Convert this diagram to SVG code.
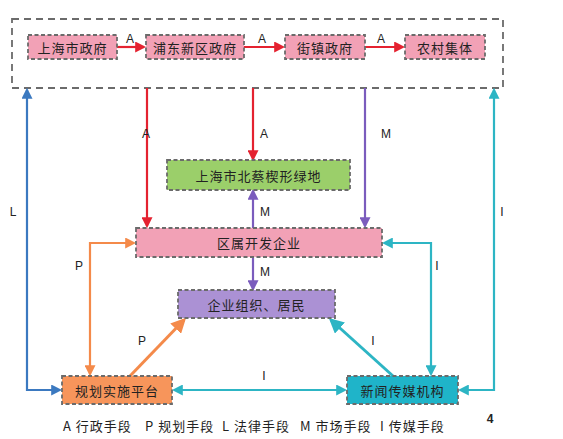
<svg xmlns="http://www.w3.org/2000/svg" width="563" height="439" viewBox="0 0 563 439">
<style>
.box{stroke:#6b6b6b;stroke-width:1.8;stroke-dasharray:4 2.5}
.t{font-family:"Noto Sans CJK SC","Liberation Sans",sans-serif;font-size:13px;fill:#222;text-anchor:middle;dominant-baseline:central;letter-spacing:1px}
.lg{font-family:"Noto Sans CJK SC","Liberation Sans",sans-serif;font-size:13px;fill:#222;dominant-baseline:central;letter-spacing:1px}
.lb{font-family:"Liberation Sans","Noto Sans CJK SC",sans-serif;font-size:12px;fill:#222;text-anchor:middle;dominant-baseline:central}
.ln{fill:none;stroke-width:2.2}
</style>
<defs>
<marker id="aR" viewBox="0 0 10 10" refX="8" refY="5" markerWidth="5" markerHeight="5" orient="auto-start-reverse"><path d="M0,0L10,5L0,10z" fill="#e42230"/></marker>
<marker id="aP" viewBox="0 0 10 10" refX="8" refY="5" markerWidth="5" markerHeight="5" orient="auto-start-reverse"><path d="M0,0L10,5L0,10z" fill="#7b5cbd"/></marker>
<marker id="aB" viewBox="0 0 10 10" refX="8" refY="5" markerWidth="5" markerHeight="5" orient="auto-start-reverse"><path d="M0,0L10,5L0,10z" fill="#3b79c0"/></marker>
<marker id="aC" viewBox="0 0 10 10" refX="8" refY="5" markerWidth="5" markerHeight="5" orient="auto-start-reverse"><path d="M0,0L10,5L0,10z" fill="#2db5c4"/></marker>
<marker id="aO" viewBox="0 0 10 10" refX="8" refY="5" markerWidth="5" markerHeight="5" orient="auto-start-reverse"><path d="M0,0L10,5L0,10z" fill="#f48a4a"/></marker>
</defs>
<rect width="563" height="439" fill="#fff"/>
<g id="outer"><rect x="12" y="19" width="491" height="69" fill="none" class="box" style="stroke-dasharray:7 5"/></g>
<g id="connectors">
<line class="ln" x1="117" y1="47" x2="144" y2="47" stroke="#e42230" marker-end="url(#aR)"/>
<line class="ln" x1="244" y1="47" x2="283" y2="47" stroke="#e42230" marker-end="url(#aR)"/>
<line class="ln" x1="365" y1="47" x2="403" y2="47" stroke="#e42230" marker-end="url(#aR)"/>
<line class="ln" x1="147" y1="88" x2="147" y2="226" stroke="#e42230" marker-end="url(#aR)"/>
<line class="ln" x1="253" y1="88" x2="253" y2="159" stroke="#e42230" marker-end="url(#aR)"/>
<line class="ln" x1="365" y1="88" x2="365" y2="226" stroke="#7b5cbd" marker-end="url(#aP)"/>
<line class="ln" x1="253" y1="228" x2="253" y2="191" stroke="#7b5cbd" marker-end="url(#aP)"/>
<line class="ln" x1="253" y1="257" x2="253" y2="289" stroke="#7b5cbd" marker-end="url(#aP)"/>
<polyline class="ln" points="27,90 27,390 60,390" stroke="#3b79c0" marker-start="url(#aB)" marker-end="url(#aB)"/>
<polyline class="ln" points="494,90 494,390 460,390" stroke="#2db5c4" marker-start="url(#aC)" marker-end="url(#aC)"/>
<polyline class="ln" points="90,374 90,243 134,243" stroke="#f48a4a" marker-start="url(#aO)" marker-end="url(#aO)"/>
<polyline class="ln" points="431,374 431,243 384,243" stroke="#2db5c4" marker-start="url(#aC)" marker-end="url(#aC)"/>
<line class="ln" x1="130" y1="376" x2="184" y2="320" stroke="#f48a4a" marker-end="url(#aO)" style="stroke-width:3"/>
<line class="ln" x1="393" y1="376" x2="331" y2="320" stroke="#2db5c4" marker-end="url(#aC)" style="stroke-width:3"/>
<line class="ln" x1="174" y1="390" x2="345" y2="390" stroke="#2db5c4" marker-start="url(#aC)" marker-end="url(#aC)"/>
</g>
<g id="labels">
<text class="lb" x="130" y="39">A</text>
<text class="lb" x="262" y="39">A</text>
<text class="lb" x="381" y="39">A</text>
<text class="lb" x="146" y="134">A</text>
<text class="lb" x="264" y="134">A</text>
<text class="lb" x="386" y="134">M</text>
<text class="lb" x="265" y="212">M</text>
<text class="lb" x="265" y="272">M</text>
<text class="lb" x="13" y="212">L</text>
<text class="lb" x="502" y="212">I</text>
<text class="lb" x="79" y="266">P</text>
<text class="lb" x="437" y="266">I</text>
<text class="lb" x="142" y="341">P</text>
<text class="lb" x="373" y="341">I</text>
<text class="lb" x="264" y="376">I</text>
</g>
<g id="n1"><rect x="28" y="35" width="89" height="24" fill="#f2a1b6" class="box"/><text class="t" x="72.5" y="47">上海市政府</text></g>
<g id="n2"><rect x="146" y="35" width="98" height="24" fill="#f2a1b6" class="box"/><text class="t" x="195" y="47">浦东新区政府</text></g>
<g id="n3"><rect x="285" y="35" width="80" height="24" fill="#f2a1b6" class="box"/><text class="t" x="325" y="47">街镇政府</text></g>
<g id="n4"><rect x="405" y="35" width="80" height="24" fill="#f2a1b6" class="box"/><text class="t" x="445" y="47">农村集体</text></g>
<g id="green"><rect x="167" y="160" width="183" height="30" fill="#9bcf6a" class="box"/><text class="t" x="258.5" y="175">上海市北蔡楔形绿地</text></g>
<g id="dev"><rect x="136" y="228" width="246" height="29" fill="#f2a1b6" class="box"/><text class="t" x="259" y="242.5">区属开发企业</text></g>
<g id="org"><rect x="178" y="290" width="157" height="28" fill="#ab91d4" class="box"/><text class="t" x="256.5" y="304">企业组织、居民</text></g>
<g id="plan"><rect x="62" y="376" width="110" height="28" fill="#f7955b" class="box"/><text class="t" x="117" y="390">规划实施平台</text></g>
<g id="media"><rect x="347" y="376" width="111" height="28" fill="#1fb4c9" class="box"/><text class="t" x="402.5" y="390">新闻传媒机构</text></g>
<g id="legend">
<text class="lg" x="63" y="425">A 行政手段</text>
<text class="lg" x="145" y="425">P 规划手段</text>
<text class="lg" x="222" y="425">L 法律手段</text>
<text class="lg" x="300" y="425">M 市场手段</text>
<text class="lg" x="380" y="425">I 传媒手段</text>
<text class="lb" x="490" y="419" style="font-weight:bold">4</text>
</g>
</svg>
